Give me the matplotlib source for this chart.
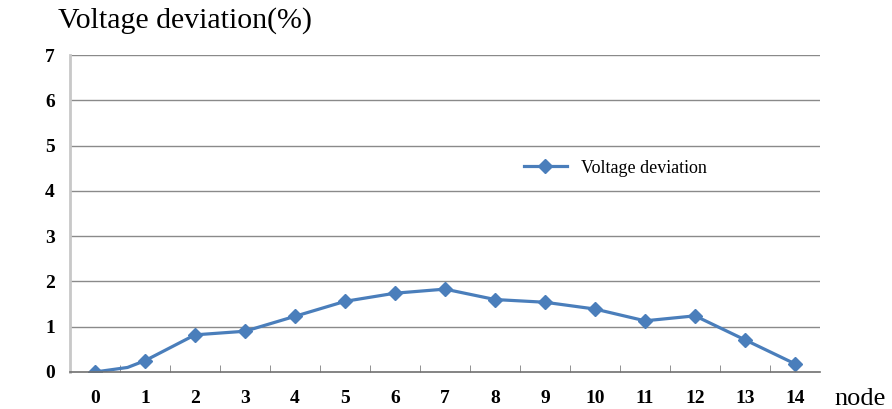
import matplotlib.pyplot as plt
import numpy as np

nodes = list(range(15))
deviation = [0.0, 0.25, 0.82, 0.9, 1.23, 1.56, 1.74, 1.83, 1.6, 1.54, 1.39, 1.13, 1.24, 0.71, 0.18]
# small kink between node 0 and 1 seen in the original picture
kink_x = 0.65
kink_y = 0.1

plt.rcParams['font.family'] = ['Liberation Serif', 'DejaVu Serif']

fig = plt.figure(figsize=(8.92, 4.09), dpi=100)
ax = fig.add_axes([0.0785, 0.0905, 0.8408, 0.775])

xs = [nodes[0], kink_x] + nodes[1:]
ys = [deviation[0], kink_y] + deviation[1:]
marks = [0] + list(range(2, len(xs)))
ax.plot(xs, ys, color='#4a7ebb', lw=2.3, marker='D', markersize=7.5,
        markevery=marks, label='Voltage deviation')

ax.set_xlim(-0.5, 14.5)
ax.set_ylim(0, 7)
ax.set_yticks(range(8))
ax.set_xticks(nodes)
ax.set_xticks(np.arange(0.5, 14.5, 1), minor=True)
ax.tick_params(axis='x', which='major', length=0, pad=13, labelsize=14)
ax.tick_params(axis='x', which='minor', direction='in', length=5, color='#808080')
ax.tick_params(axis='y', length=0, pad=11, labelsize=14)
for lab in ax.get_xticklabels() + ax.get_yticklabels():
    lab.set_fontweight('bold')

for v in range(1, 8):
    ax.axhline(v, color='#8a8a8a', lw=1, zorder=0)

for s in ['top', 'right']:
    ax.spines[s].set_visible(False)
ax.spines['left'].set_color('#c8c8c8')
ax.spines['left'].set_linewidth(2)
ax.spines['bottom'].set_color('#707070')
ax.spines['bottom'].set_linewidth(1.2)

fig.text(0.065, 0.95, 'Voltage deviation(%)', fontsize=21.5, va='center', ha='left')
fig.text(0.936, 0.025, 'node', fontsize=19, va='center', ha='left')

ax.legend(loc='center left', bbox_to_anchor=(0.583, 0.643), frameon=False,
          handlelength=2.4, prop={'size': 13})

fig.savefig('out.png', dpi=100)
